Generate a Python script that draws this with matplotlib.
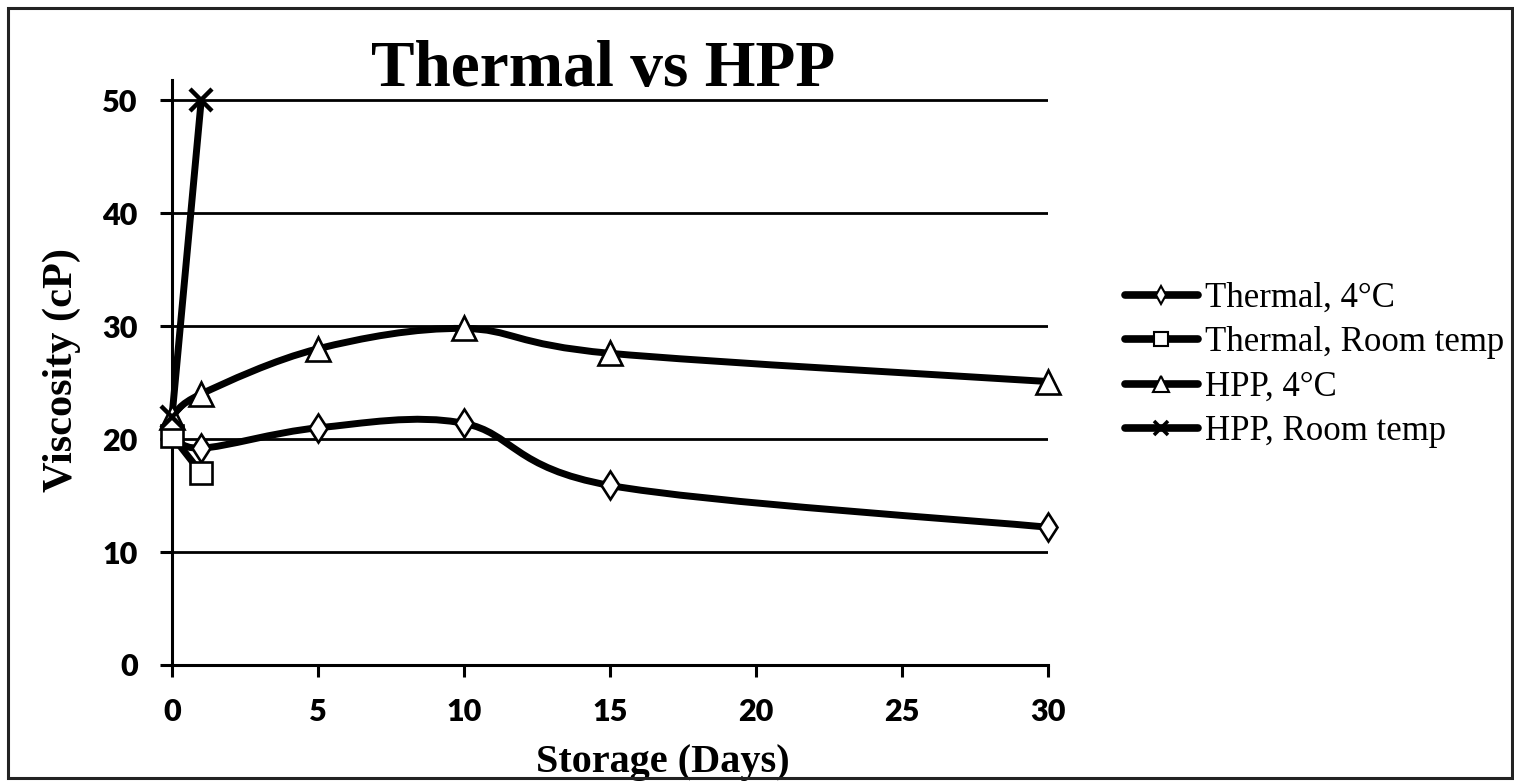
import numpy as np
import matplotlib
matplotlib.use("Agg")
import matplotlib.pyplot as plt
from matplotlib.path import Path
from matplotlib.patches import PathPatch, Rectangle
from matplotlib.lines import Line2D

# data
thermal_4c_days = [0, 1, 5, 10, 15, 30]
thermal_4c_visc = [20.5, 19.2, 21.0, 21.4, 15.9, 12.2]

thermal_rt_days = [0, 1]
thermal_rt_visc = [20.3, 17.0]

hpp_4c_days = [0, 1, 5, 10, 15, 30]
hpp_4c_visc = [22.0, 24.0, 28.0, 29.8, 27.6, 25.1]

hpp_rt_days = [0, 1]
hpp_rt_visc = [22.0, 50.0]

labels = ["Thermal, 4°C", "Thermal, Room temp", "HPP, 4°C", "HPP, Room temp"]
y_ticks = [0, 10, 20, 30, 40, 50]
x_ticks = [0, 5, 10, 15, 20, 25, 30]

SERIF = ["Liberation Serif", "DejaVu Serif"]
TICKFONT = ["Lato", "DejaVu Sans"]


def smooth_path(xs, ys):
    """Excel-like smoothed line: cubic bezier with catmull-rom control points"""
    pts = np.column_stack([xs, ys]).astype(float)
    n = len(pts)
    verts = [pts[0]]
    codes = [Path.MOVETO]
    for i in range(n - 1):
        p0 = pts[i - 1] if i > 0 else pts[i]
        p1 = pts[i]
        p2 = pts[i + 1]
        p3 = pts[i + 2] if i + 2 < n else pts[i + 1]
        c1 = p1 + (p2 - p0) / 6.0
        c2 = p2 - (p3 - p1) / 6.0
        verts += [c1, c2, p2]
        codes += [Path.CURVE4] * 3
    return Path(verts, codes)


fig = plt.figure(figsize=(15.14, 7.81), dpi=100)
ax = fig.add_axes([172 / 1514, 1 - 665 / 781, 876 / 1514, 585 / 781])

ax.set_xlim(0, 30)
ax.set_ylim(0, 51.8)

series = [
    (thermal_4c_days, thermal_4c_visc, "d", 14.5),
    (thermal_rt_days, thermal_rt_visc, "s", 15.5),
    (hpp_4c_days, hpp_4c_visc, "^", 17.5),
    (hpp_rt_days, hpp_rt_visc, "x", 16),
]

handles = []
for (xs, ys, mk, ms), lab in zip(series, labels):
    patch = PathPatch(smooth_path(xs, ys), facecolor="none", edgecolor="black",
                      lw=5.0, capstyle="round", joinstyle="round", zorder=3,
                      clip_on=False)
    ax.add_patch(patch)
    mew = 3.2 if mk == "x" else 1.9
    ax.plot(xs, ys, linestyle="none", marker=mk, ms=ms, mfc="white",
            mec="black", mew=mew, zorder=4, clip_on=False)
    handles.append(Line2D([], [], color="black", lw=5.5, marker=mk,
                          ms=ms * 0.62, mfc="white", mec="black",
                          mew=mew * 0.8, solid_capstyle="round"))

# grid and axes
ax.set_yticks(y_ticks)
ax.set_xticks(x_ticks)
ax.yaxis.grid(True, color="black", lw=2.0)
ax.set_axisbelow(True)
for side in ["top", "right"]:
    ax.spines[side].set_visible(False)
for side in ["left", "bottom"]:
    ax.spines[side].set_linewidth(2.2)
ax.tick_params(axis="both", direction="out", length=8.6, width=2.2,
               color="black")
ax.tick_params(axis="y", pad=16)
ax.tick_params(axis="x", pad=15)
for t in ax.get_xticklabels() + ax.get_yticklabels():
    t.set_fontfamily(TICKFONT)
    t.set_fontweight("heavy")
    t.set_fontsize(22)

ax.set_title("Thermal vs HPP", fontfamily=SERIF, fontweight="bold",
             fontsize=47, x=(603 - 172) / 876, y=1.0, pad=-4)
ax.set_xlabel("Storage (Days)", fontfamily=SERIF, fontweight="bold",
              fontsize=29)
ax.xaxis.set_label_coords((663 - 172) / 876, -(772 - 665) / 585,
                          transform=ax.transAxes)
ax.xaxis.label.set_verticalalignment("baseline")
ax.set_ylabel("Viscosity (cP)", fontfamily=SERIF, fontweight="bold",
              fontsize=30.5)
ax.yaxis.set_label_coords(-(172 - 62) / 876, (665 - 370) / 585)
ax.yaxis.label.set_verticalalignment("center")

leg = fig.legend(handles=handles, labels=labels, loc="center left",
                 bbox_to_anchor=(1125 / 1514, 1 - 365 / 781), frameon=False,
                 prop={"family": SERIF, "size": 25}, handlelength=2.1,
                 handletextpad=0.2, labelspacing=0.33, borderpad=0,
                 borderaxespad=0)

# outer frame of the picture
fig.patches.append(Rectangle((8 / 1514, 3 / 781), 1 - 10 / 1514, 1 - 11 / 781,
                             transform=fig.transFigure, fill=False,
                             edgecolor="#222222", lw=2.2))

fig.savefig("out.png", dpi=100)
